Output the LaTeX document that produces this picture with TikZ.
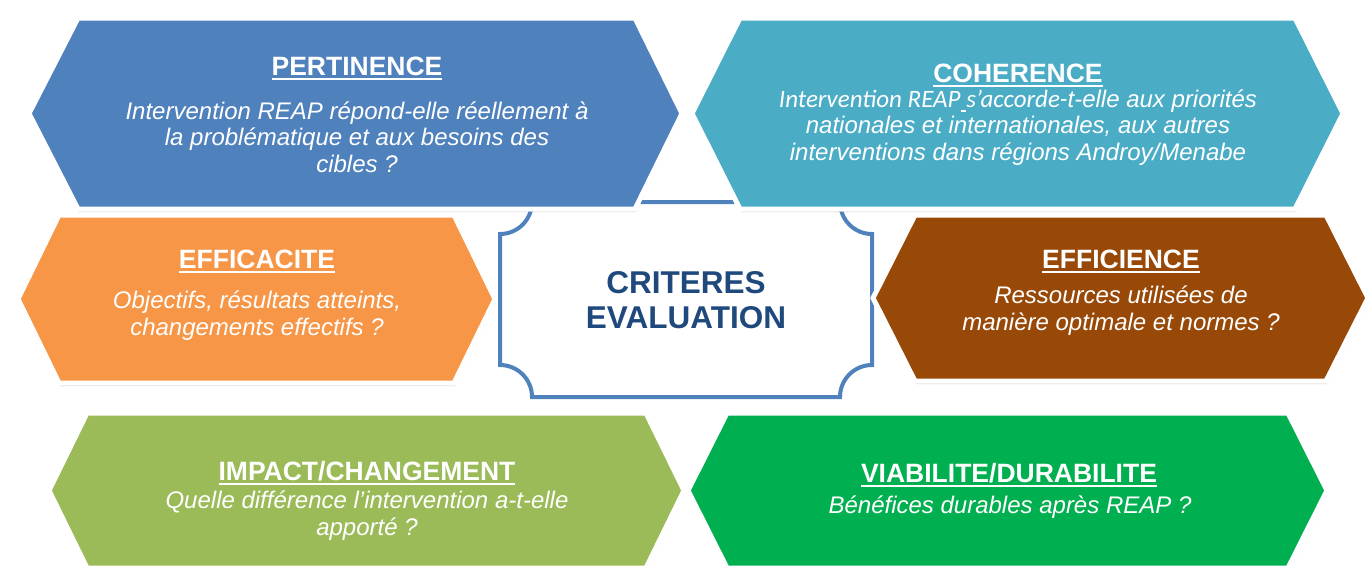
\documentclass[tikz,border=0pt]{standalone}
\usepackage{fontspec}
\setmainfont{Liberation Sans}
\newfontfamily\carlito{Carlito}
\usetikzlibrary{shadows,positioning}
\definecolor{pblue}{HTML}{4F81BD}
\definecolor{cteal}{HTML}{4BACC6}
\definecolor{eorange}{HTML}{F79646}
\definecolor{ebrown}{HTML}{984807}
\definecolor{igreen}{HTML}{9BBB59}
\definecolor{vgreen}{HTML}{00B050}
\definecolor{critblue}{HTML}{1F497D}
\tikzstyle{hexa} = [draw=white, line width=5pt,
    drop shadow={shadow xshift=1pt,shadow yshift=-3pt,opacity=0.2,fill=black}]
\tikzstyle{plaque} = [draw=pblue, fill=white, line width=4pt]
\tikzstyle{head} = [text=white, inner sep=0pt, anchor=base,
    font=\fontsize{26.5}{30}\selectfont\bfseries]
\tikzstyle{quest} = [text=white, inner sep=0pt, anchor=base, align=center,
    font=\fontsize{24}{26.5}\selectfont\itshape]
\tikzstyle{crit} = [text=critblue, inner sep=0pt, anchor=base, align=center,
    font=\fontsize{31.5}{35}\selectfont\bfseries]
\newcommand{\hdul}[1]{\setbox0\hbox{#1}\rlap{\rule[-5pt]{\wd0}{2.5pt}}\box0}

\begin{document}
\begin{tikzpicture}[x=1pt, y=-1pt]
  \useasboundingbox (0,0) rectangle (1365,566);
  % centre box
  \draw [plaque] (532,202) -- (840,202) arc (180:90:32) -- (872,365)
    arc (270:180:32) -- (532,397) arc (0:-90:32) -- (500,234)
    arc (90:0:32) -- cycle;
  % hexagons
  \foreach \xa/\xb/\xc/\xd/\ya/\yb/\col in
    {49/87/646/684/413/568/igreen, 688/727/1288/1327/413/568/vgreen,
     18/59/454/495/215/383/eorange, 873/915/1326/1368/215/381/ebrown,
     29/78/635/682/18/209/pblue, 692/740/1295/1343/18/209/cteal}
    \filldraw [hexa, fill=\col] (\xa,{(\ya+\yb)/2}) -- (\xb,\ya) -- (\xc,\ya)
      -- (\xd,{(\ya+\yb)/2}) -- (\xc,\yb) -- (\xb,\yb) -- cycle;
  % Place nodes (base = last line)
  \node [crit] (crit) at (686,328) {CRITERES\\EVALUATION};
  \node [head] (pert) at (357,75) {\hdul{PERTINENCE}};
  \node [quest] (pertq) at (357,172) {Intervention REAP répond-elle réellement à\\
    la problématique et aux besoins des\\cibles ?};
  \node [head] (coh) at (1018,82) {\hdul{COHERENCE}};
  \node [quest] (cohq) at (1018,160)
    {{\carlito\fontsize{25}{26.5}\selectfont Intervention REAP\hdul{\ }s’accorde-}t-elle aux priorités\\
    nationales et internationales, aux autres\\
    interventions dans régions Androy/Menabe};
  \node [head] (effa) at (257,268) {\hdul{EFFICACITE}};
  \node [quest] (effaq) at (257,335) {Objectifs, résultats atteints,\\
    changements effectifs ?};
  \node [head] (effi) at (1121,268) {\hdul{EFFICIENCE}};
  \node [quest] (effiq) at (1121,330) {Ressources utilisées de\\
    manière optimale et normes ?};
  \node [head] (imp) at (367,480) {\hdul{IMPACT/CHANGEMENT}};
  \node [quest] (impq) at (367,535) {Quelle différence l’intervention a-t-elle\\
    apporté ?};
  \node [head] (via) at (1009,482) {\hdul{VIABILITE/DURABILITE}};
  \node [quest] (viaq) at (1010,513) {Bénéfices durables après REAP ?};
\end{tikzpicture}
\end{document}
